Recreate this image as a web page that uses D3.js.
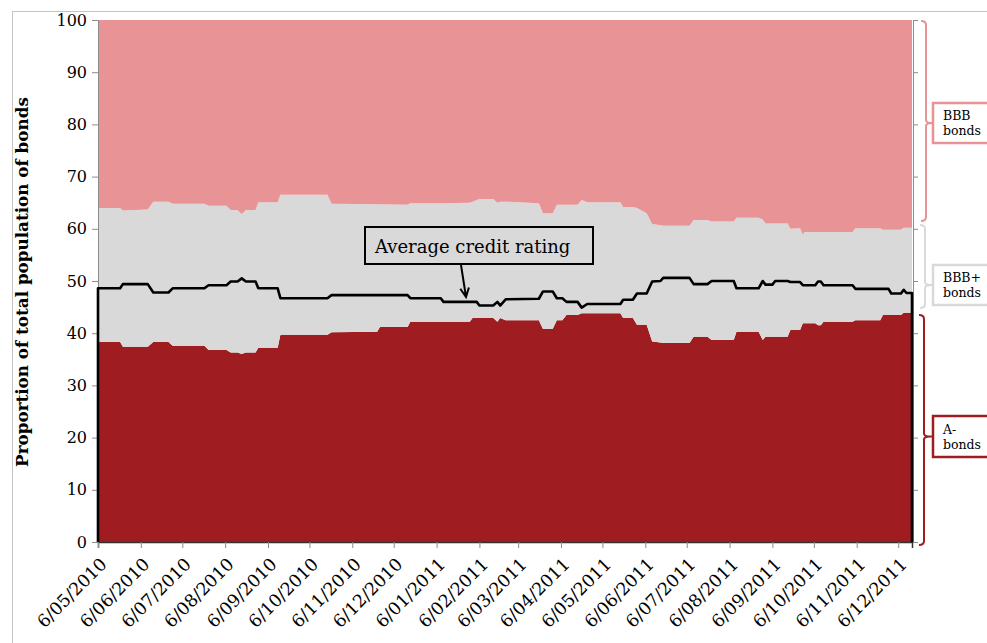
<!DOCTYPE html>
<html>
<head>
<meta charset="utf-8">
<script src="https://cdn.jsdelivr.net/npm/d3@7"></script>
<style>
  html, body { margin: 0; padding: 0; background: #fff; }
  svg { display: block; font-family: 'DejaVu Serif', Georgia, serif; }
</style>
</head>
<body>
<svg id="chart" width="987" height="643"></svg>
<script>
// observation dates where the shares change
const dates = [
  '2010-05-06', '2010-05-22', '2010-05-24', '2010-06-11', '2010-06-15', '2010-06-26', '2010-06-29', '2010-07-22',
  '2010-07-25', '2010-08-07', '2010-08-10', '2010-08-15', '2010-08-18', '2010-08-21', '2010-08-28', '2010-08-30',
  '2010-09-13', '2010-09-15', '2010-10-19', '2010-10-22', '2010-11-24', '2010-11-26', '2010-12-16', '2010-12-18',
  '2011-01-09', '2011-01-11', '2011-01-30', '2011-02-01', '2011-02-04', '2011-02-06', '2011-02-16', '2011-02-19',
  '2011-02-21', '2011-02-25', '2011-03-21', '2011-03-24', '2011-03-31', '2011-04-03', '2011-04-07', '2011-04-10',
  '2011-04-18', '2011-04-21', '2011-04-25', '2011-05-19', '2011-05-21', '2011-05-28', '2011-05-31', '2011-06-07',
  '2011-06-11', '2011-06-17', '2011-06-19', '2011-07-08', '2011-07-11', '2011-07-21', '2011-07-24', '2011-08-09',
  '2011-08-11', '2011-08-27', '2011-08-30', '2011-09-01', '2011-09-06', '2011-09-08', '2011-09-17', '2011-09-19',
  '2011-09-26', '2011-09-28', '2011-09-29', '2011-10-07', '2011-10-09', '2011-10-11', '2011-10-13', '2011-11-03',
  '2011-11-05', '2011-11-23', '2011-11-25', '2011-11-29', '2011-12-01', '2011-12-08', '2011-12-10', '2011-12-12',
  '2011-12-16'
];

const aMinus = [
  38.3, 38.3, 37.4, 37.4, 38.3, 38.3, 37.6, 37.6,
  36.8, 36.8, 36.3, 36.3, 36.0, 36.3, 36.3, 37.2,
  37.2, 39.7, 39.7, 40.2, 40.3, 41.2, 41.2, 42.2,
  42.2, 42.2, 42.2, 42.9, 42.9, 42.9, 42.9, 42.2,
  42.9, 42.5, 42.5, 40.8, 40.8, 42.5, 42.5, 43.5,
  43.5, 43.8, 43.8, 43.8, 42.9, 42.9, 41.6, 41.6,
  38.4, 38.2, 38.1, 38.1, 39.3, 39.3, 38.7, 38.7,
  40.3, 40.3, 38.7, 39.3, 39.3, 39.3, 39.3, 40.6,
  40.6, 41.9, 41.9, 41.9, 41.5, 41.5, 42.2, 42.2,
  42.5, 42.5, 43.5, 43.5, 43.5, 43.5, 43.9, 43.9,
  43.9
];

const bbbPlus = [
  25.7, 25.7, 26.1, 26.3, 26.9, 26.9, 27.2, 27.2,
  27.6, 27.6, 27.3, 27.3, 26.8, 27.3, 27.3, 27.9,
  27.9, 26.8, 26.8, 24.6, 24.4, 23.5, 23.4, 22.7,
  22.7, 22.7, 22.8, 22.3, 22.6, 22.8, 22.8, 22.8,
  22.3, 22.7, 22.4, 22.2, 22.2, 22.1, 22.1, 21.1,
  21.1, 21.7, 21.3, 21.3, 21.3, 21.3, 22.4, 21.4,
  22.5, 22.5, 22.5, 22.5, 22.4, 22.4, 22.7, 22.7,
  21.8, 21.8, 23.1, 21.7, 21.7, 21.7, 21.7, 19.4,
  19.5, 16.9, 17.5, 17.5, 17.9, 17.9, 17.2, 17.2,
  17.6, 17.6, 16.3, 16.3, 16.3, 16.3, 16.3, 16.3,
  16.3
];

const bbb = [
  36.0, 36.0, 36.5, 36.3, 34.8, 34.8, 35.2, 35.2,
  35.6, 35.6, 36.4, 36.4, 37.2, 36.4, 36.4, 34.9,
  34.9, 33.5, 33.5, 35.2, 35.3, 35.3, 35.4, 35.1,
  35.1, 35.1, 35.0, 34.8, 34.5, 34.3, 34.3, 35.0,
  34.8, 34.8, 35.1, 37.0, 37.0, 35.4, 35.4, 35.4,
  35.4, 34.5, 34.9, 34.9, 35.8, 35.8, 36.0, 37.0,
  39.1, 39.3, 39.4, 39.4, 38.3, 38.3, 38.6, 38.6,
  37.9, 37.9, 38.2, 39.0, 39.0, 39.0, 39.0, 40.0,
  39.9, 41.2, 40.6, 40.6, 40.6, 40.6, 40.6, 40.6,
  39.9, 39.9, 40.2, 40.2, 40.2, 40.2, 39.8, 39.8,
  39.8
];

const avgRating = [
  48.6, 48.6, 49.4, 49.4, 47.8, 47.8, 48.6, 48.6,
  49.2, 49.2, 49.9, 49.9, 50.5, 49.9, 49.9, 48.6,
  48.6, 46.7, 46.7, 47.3, 47.3, 47.3, 47.3, 46.7,
  46.7, 46.0, 46.0, 46.0, 46.0, 45.3, 45.3, 46.0,
  45.3, 46.5, 46.6, 48.0, 48.0, 46.7, 46.7, 46.0,
  46.0, 44.9, 45.6, 45.6, 46.4, 46.4, 47.6, 47.6,
  49.9, 50.0, 50.6, 50.6, 49.4, 49.4, 50.0, 50.0,
  48.6, 48.6, 50.0, 49.3, 49.3, 50.0, 50.0, 49.8,
  49.8, 49.2, 49.2, 49.2, 49.9, 49.9, 49.2, 49.2,
  48.5, 48.5, 48.5, 48.5, 47.6, 47.6, 48.3, 47.7,
  47.7
];

const monthTicks = [
  '2010-05-06', '2010-06-06', '2010-07-06', '2010-08-06', '2010-09-06', '2010-10-06', '2010-11-06',
  '2010-12-06', '2011-01-06', '2011-02-06', '2011-03-06', '2011-04-06', '2011-05-06', '2011-06-06',
  '2011-07-06', '2011-08-06', '2011-09-06', '2011-10-06', '2011-11-06', '2011-12-06'
];
const yTicks = [0, 10, 20, 30, 40, 50, 60, 70, 80, 90, 100];

const bandKeys = ['aMinus', 'bbbPlus', 'bbb'];
const bandColors = { aMinus: '#9f1d20', bbbPlus: '#d9d9d9', bbb: '#e89496' };
const bandLabels = [
  { key: 'bbb', lines: ['BBB', 'bonds'], top: 21, bottom: 221, boxTop: 103, boxBottom: 143, vx: 926 },
  { key: 'bbbPlus', lines: ['BBB+', 'bonds'], top: 225, bottom: 308, boxTop: 265, boxBottom: 305, vx: 925 },
  { key: 'aMinus', lines: ['A-', 'bonds'], top: 315, bottom: 545, boxTop: 416, boxBottom: 457, vx: 924 },
];

const parse = d3.timeParse('%Y-%m-%d');
const fmt = d3.timeFormat('%-d/%m/%Y');

const svg = d3.select('#chart');

// outer frame
svg.append('rect')
  .attr('x', 12.5).attr('y', 11.5)
  .attr('width', 1000).attr('height', 700)
  .attr('fill', 'none').attr('stroke', '#c4c4c4');

const x = d3.scaleTime()
  .domain([parse(dates[0]), parse(dates[dates.length - 1])])
  .range([98, 912]);
const y = d3.scaleLinear().domain([0, 100]).range([542, 20]);

const rows = dates.map((d, i) => ({
  date: parse(d), aMinus: aMinus[i], bbbPlus: bbbPlus[i], bbb: bbb[i], avg: avgRating[i],
}));

const series = d3.stack().keys(bandKeys)(rows);

const area = d3.area()
  .x((d) => x(d.data.date))
  .y0((d) => y(d[0]))
  .y1((d) => y(d[1]));

svg.append('g')
  .selectAll('path')
  .data(series)
  .join('path')
  .attr('fill', (s) => bandColors[s.key])
  .attr('d', area);

// axes
const yAxis = svg.append('g')
  .attr('transform', 'translate(98,0)')
  .call(d3.axisLeft(y).tickValues(yTicks).tickSize(6).tickPadding(5));
yAxis.select('.domain').attr('stroke', '#8c8c8c');
yAxis.selectAll('.tick line').attr('stroke', '#8c8c8c');
yAxis.selectAll('.tick text')
  .attr('fill', '#000')
  .style('font-size', '16px')
  .style('font-family', "'DejaVu Serif', serif");

const yRight = svg.append('g')
  .attr('transform', 'translate(913,0)')
  .call(d3.axisRight(y).tickValues(yTicks).tickSize(5).tickFormat(''));
yRight.select('.domain').attr('stroke', '#8c8c8c');
yRight.selectAll('.tick line').attr('stroke', '#8c8c8c');

const xAxis = svg.append('g')
  .attr('transform', 'translate(0,542)')
  .call(d3.axisBottom(x).tickValues(monthTicks.map(parse)).tickSize(6).tickFormat(fmt));
xAxis.select('.domain').attr('stroke', '#333').attr('stroke-width', 1.5);
xAxis.selectAll('.tick line').attr('stroke', '#8c8c8c');
xAxis.selectAll('.tick text')
  .attr('fill', '#000')
  .attr('x', 0).attr('y', 0).attr('dy', '0.35em')
  .attr('transform', 'translate(5,19) rotate(-45)')
  .style('text-anchor', 'end')
  .style('font-size', '17.5px')
  .style('font-family', "'DejaVu Serif', serif");

// average credit rating line (drops to zero at both ends)
const avgPoints = [{ date: rows[0].date, avg: 0 }, ...rows, { date: rows[rows.length - 1].date, avg: 0 }];
svg.append('path')
  .datum(avgPoints)
  .attr('fill', 'none')
  .attr('stroke', '#000')
  .attr('stroke-width', 2.6)
  .attr('stroke-linejoin', 'round')
  .attr('d', d3.line().x((d) => x(d.date)).y((d) => y(d.avg)));

// y title
svg.append('text')
  .attr('transform', 'translate(28,282) rotate(-90)')
  .attr('text-anchor', 'middle')
  .style('font-size', '16.8px')
  .style('font-weight', 'bold')
  .text('Proportion of total population of bonds');

// callout
svg.append('rect')
  .attr('x', 365).attr('y', 227).attr('width', 228).attr('height', 37)
  .attr('fill', '#d9d9d9').attr('stroke', '#000').attr('stroke-width', 2);
svg.append('text')
  .attr('x', 375).attr('y', 253)
  .style('font-size', '18px')
  .text('Average credit rating');

const arrowFrom = [461, 265];
const arrowTo = [466, 297];
const ang = Math.atan2(arrowTo[1] - arrowFrom[1], arrowTo[0] - arrowFrom[0]);
const head = [ang + Math.PI - 0.45, ang + Math.PI + 0.45]
  .map((a) => [arrowTo[0] + 10 * Math.cos(a), arrowTo[1] + 10 * Math.sin(a)]);
svg.append('path')
  .attr('d', `M${arrowFrom}L${arrowTo}M${head[0]}L${arrowTo}L${head[1]}`)
  .attr('fill', 'none').attr('stroke', '#000').attr('stroke-width', 2);

// braces and labels on the right
function brace(vx, top, bottom, mid) {
  const l = vx - 5;
  return `M${l},${top}Q${vx},${top} ${vx},${top + 4}L${vx},${mid - 3}Q${vx},${mid} ${vx + 6},${mid}`
    + `Q${vx},${mid} ${vx},${mid + 3}L${vx},${bottom - 4}Q${vx},${bottom} ${l},${bottom}`;
}

bandLabels.forEach((b) => {
  const mid = (b.boxTop + b.boxBottom) / 2;
  const c = bandColors[b.key];
  svg.append('path')
    .attr('d', brace(b.vx, b.top, b.bottom, mid))
    .attr('fill', 'none').attr('stroke', c).attr('stroke-width', 2);
  svg.append('line')
    .attr('x1', b.vx + 6).attr('x2', 933).attr('y1', mid).attr('y2', mid)
    .attr('stroke', c).attr('stroke-width', 2);
  svg.append('rect')
    .attr('x', 933).attr('y', b.boxTop).attr('width', 80).attr('height', b.boxBottom - b.boxTop)
    .attr('fill', '#fff').attr('stroke', c).attr('stroke-width', 2.5);
  svg.append('text')
    .attr('x', 943).attr('y', mid - 3)
    .style('font-size', '12.5px')
    .text(b.lines[0]);
  svg.append('text')
    .attr('x', 943).attr('y', mid + 12)
    .style('font-size', '12.5px')
    .text(b.lines[1]);
});
</script>
</body>
</html>
